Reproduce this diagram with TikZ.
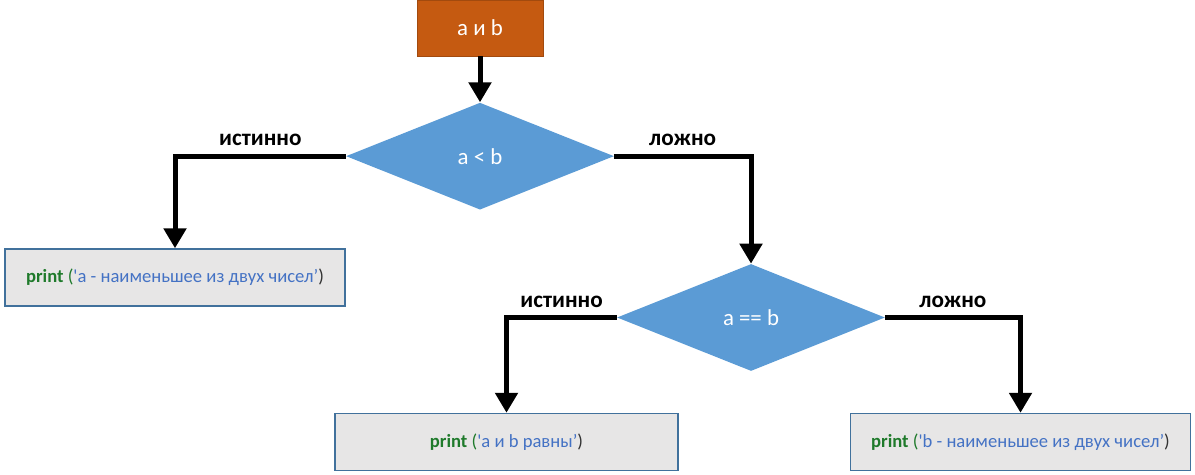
\documentclass[tikz,border=0pt]{standalone}
\usepackage{fontspec}
\setmainfont{Carlito}
\usetikzlibrary{shapes.geometric,positioning,arrows.meta}
\definecolor{startfill}{HTML}{C55A11}
\definecolor{startline}{HTML}{A24A0E}
\definecolor{decfill}{HTML}{5B9BD5}
\definecolor{boxfill}{HTML}{E7E6E6}
\definecolor{boxline}{HTML}{41719C}
\definecolor{kwgreen}{HTML}{1F7A2B}
\definecolor{strblue}{HTML}{4472C4}
\newcommand{\pr}[1]{{\bfseries\color{kwgreen}print} {\color{kwgreen}(}{\color{strblue}\textquotesingle #1’}{\color{black!80})}}
\begin{document}
\begin{tikzpicture}[x=0.02cm,y=-0.02cm,
	flow/.style={line width=0.1cm,-{Triangle[width=0.44cm,length=0.4cm]}},
	answer/.style={font=\bfseries\fontsize{13.2}{15}\selectfont,above=1pt},
	decision/.style={diamond,fill=decfill,text=white,
		minimum width=5.36cm,minimum height=2.14cm,aspect=2.5,
		inner sep=0pt,font=\fontsize{13}{15}\selectfont},
	result/.style={draw=boxline,line width=0.8pt,fill=boxfill,
		minimum width=6.8cm,minimum height=1.14cm,
		font=\fontsize{10.6}{13}\selectfont}]
	\useasboundingbox (0,0) rectangle (1195,475);

	\node[draw=startline,
		fill=startfill,
		text=white,
		minimum width=2.52cm,
		minimum height=1.12cm,
		font=\fontsize{13}{15}\selectfont
	] (start) at (480,28) {a и b};

	\node[decision,
		below=0.92cm of start
	] (less) {a < b};

	\node[result] (first) at (175,277.5) {\pr{a - наименьшее из двух чисел}};

	\node[decision] (equal) at (751,317.5) {a == b};

	\node[result,
		minimum width=6.86cm
	] (same) at (506.5,442) {\pr{a и b равны}};

	\node[result] (second) at (1020.5,442) {\pr{b - наименьшее из двух чисел}};

	\draw[flow] (start) -- (less);
	\draw[flow] (less.west) -| node[answer,pos=0.25] {истинно} (first.north);
	\draw[flow] (less.east) -| node[answer,pos=0.25] {ложно} (equal.north);
	\draw[flow] (equal.west) -| node[answer,pos=0.25] {истинно} (same.north);
	\draw[flow] (equal.east) -| node[answer,pos=0.25] {ложно} (second.north);

\end{tikzpicture}
\end{document}
